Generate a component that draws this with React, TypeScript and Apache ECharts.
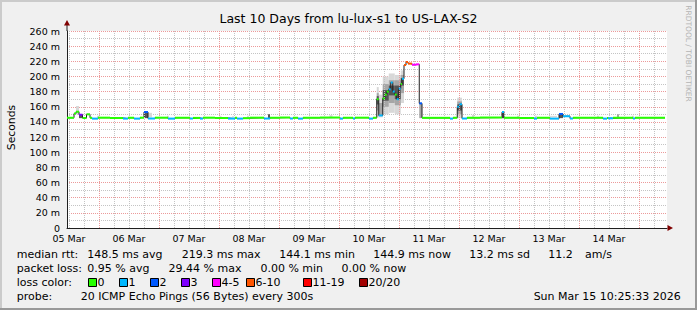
import React, { useEffect, useRef } from 'react';
import * as echarts from 'echarts';

// ---------- data ----------
const TITLE = 'Last 10 Days from lu-lux-s1 to US-LAX-S2';
const Y_MAX = 260;
const X_SPAN_HOURS = 240; // window length, hours from window start
const FIRST_MIDNIGHT_H = 12.8; // hours from window start to 06 Mar 00:00
const DAY_LABELS = ['05 Mar', '06 Mar', '07 Mar', '08 Mar', '09 Mar', '10 Mar', '11 Mar', '12 Mar', '13 Mar', '14 Mar'];

// median rtt segments (ms): start hour, median, loss class index
const SEG_START = [0, 2.8, 3.6, 4.8, 6.2, 7.8, 9.2, 10, 12.4, 17.2, 22.4, 24.4, 26.8, 29.2, 30.8, 32.4, 35.2, 40.4, 43.2, 49.2, 50.4, 53.2, 54.4, 59.2, 64.4, 67.2, 68, 70.4, 73.2, 78.8, 81.2, 85.2, 89.2, 90.4, 92.4, 94.4, 101.2, 109.2, 110.4, 114.4, 115.2, 120.8, 122.4, 123.9, 124.7, 126.3, 127.1, 127.9, 128.7, 129.5, 130.3, 131.1, 131.9, 132.7, 133.5, 134, 134.8, 135.6, 136.4, 138, 139.6, 140.9, 142, 153.2, 154.4, 156.1, 156.9, 158, 160, 165.2, 174, 174.8, 181.2, 186.8, 188, 193.2, 196.8, 198.4, 201.2, 202.4, 214.4, 216, 216.4, 218.4, 226.4, 227.2];
const SEG_END_LAST = 239.2;
const SEG_MEDIAN = [145.5, 151, 153.5, 149.5, 145.2, 150, 145.5, 144.4, 145.6, 145.2, 144.4, 145.5, 144.4, 145.6, 153, 144.5, 145.6, 144.4, 145.5, 144.5, 145.3, 144.4, 145.6, 145.2, 144.4, 145.4, 144.4, 145.0, 145.6, 144.5, 145.5, 145.8, 144.5, 145.5, 144.4, 145.5, 145.8, 144.4, 145.5, 144.4, 145.6, 144.4, 145.5, 170, 148.5, 171, 176, 180, 183, 192, 180, 176, 170, 184, 190, 197, 215, 219, 217, 215.5, 216, 164.5, 145.4, 144.4, 145.5, 160, 163.3, 144.5, 145.5, 145.8, 153, 145.5, 145.2, 144.4, 145.5, 144.4, 150.5, 147.5, 144.5, 145.5, 144.4, 145.2, 144.8, 145.5, 144.5, 145.5];
const SEG_LOSS = [0, 0, 0, 3, 0, 0, 0, 1, 0, 0, 1, 0, 1, 0, 2, 1, 0, 1, 0, 1, 0, 1, 0, 0, 1, 0, 1, 0, 0, 1, 0, 0, 1, 0, 1, 0, 0, 1, 0, 1, 0, 1, 0, 0, 1, 0, 0, 0, 1, 1, 1, 0, 1, 1, 0, 1, 5, 5, 5, 4, 4, 2, 0, 1, 0, 1, 1, 1, 0, 0, 1, 0, 0, 1, 0, 1, 2, 1, 1, 0, 1, 0, 1, 0, 1, 0];

// smoke bands: [start hour, end hour, low ms, high ms]
const SMOKE_LIGHT = [
  [3.6, 4.8, 150, 161], [12.0, 12.8, 146, 148], [32.4, 34.0, 146, 152], [40.0, 40.8, 146, 148],
  [61.0, 61.8, 146, 148], [66.0, 66.8, 146, 147.5], [72.0, 72.8, 146, 148], [105.0, 106.2, 146, 149],
  [123.9, 124.7, 146, 186], [124.7, 126.3, 146, 176], [126.3, 128.7, 150, 200], [128.7, 131.1, 152, 204],
  [131.1, 133.5, 150, 202], [133.5, 134.8, 165, 208], [156.1, 158, 145, 172], [162.0, 162.8, 146, 149],
  [180.0, 180.8, 146, 148], [187.2, 188, 146, 148], [193.2, 196, 146, 148], [212.0, 212.8, 146, 148],
  [226.0, 226.8, 146, 148],
];
const SMOKE_MID = [
  [123.9, 124.7, 155, 178], [124.7, 126.3, 148, 165], [126.3, 128.7, 160, 190], [128.7, 131.1, 165, 195],
  [131.1, 133.5, 162, 195], [133.5, 134.8, 178, 202], [140.9, 142, 145, 164], [156.1, 158, 150, 167],
  [220.0, 220.8, 146, 150],
];
const SMOKE_DARK = [
  [4.8, 6.2, 145, 150], [30.8, 32.4, 145, 153], [80.4, 81.2, 145, 150], [123.9, 124.7, 163, 174],
  [126.3, 128.7, 168, 182], [128.7, 131.1, 175, 188], [131.1, 133.5, 170, 188], [133.5, 134.8, 188, 198],
  [156.1, 158, 155, 163], [174, 174.8, 145, 153], [196.8, 198.4, 145, 150.5],
];

const LOSS_LABELS = ['0', '1', '2', '3', '4-5', '6-10', '11-19', '20/20'];
const LOSS_COLORS = ['#26ff00', '#00b8ff', '#0059ff', '#7e00ff', '#ff00ff', '#ff5500', '#ff0000', '#a10000'];
const SMOKE_COLORS = ['#d8d8d8', '#a6a6a6', '#555555'];

const RTT_STATS = ['148.5 ms avg', '219.3 ms max', '144.1 ms min', '144.9 ms now', '13.2 ms sd', '11.2', 'am/s'];
const LOSS_STATS = ['0.95 % avg', '29.44 % max', '0.00 % min', '0.00 % now'];
const PROBE_TEXT = '20 ICMP Echo Pings (56 Bytes) every 300s';
const DATE_TEXT = 'Sun Mar 15 10:25:33 2026';
const WATERMARK = 'RRDTOOL / TOBI OETIKER';

// ---------- layout ----------
const W = 697;
const H = 310;
const FONT = '"DejaVu Sans", "Liberation Sans", sans-serif';
const LEGEND_SIZE = 11;
const GRID_LEFT = 67;
const GRID_TOP = 31;
const GRID_RIGHT = 30;
const GRID_BOTTOM = 82;

const RTT_X = [87.3, 181.7, 279.3, 373.3, 469.3, 548.3, 585];
const LOSS_X = [87.3, 168.5, 260.4, 341.5];
const BOX_X = [88.5, 119.5, 150.5, 181.5, 212.5, 246.5, 303.5, 359.5];

function txt(text: string, x: number, y: number, size: number, opts: any = {}) {
  return {
    type: 'text',
    x,
    y,
    rotation: opts.rotation || 0,
    silent: true,
    z: 100,
    style: {
      text,
      font: `${size}px ${FONT}`,
      fill: opts.fill || '#000',
      textAlign: opts.align || 'left',
      align: opts.align || 'left',
      textVerticalAlign: 'middle',
      verticalAlign: 'middle',
    },
  };
}

const App = () => {
  const ref = useRef<HTMLDivElement>(null);
  useEffect(() => {
    const chart = echarts.init(ref.current!, null, { renderer: 'svg' });
    const n = SEG_START.length;
    const segData = SEG_START.map((s, i) => [s, i < n - 1 ? SEG_START[i + 1] : SEG_END_LAST, SEG_MEDIAN[i], SEG_LOSS[i]]);
    const medianLine: number[][] = segData.map((d) => [d[0], d[2]]);
    medianLine.push([SEG_END_LAST, SEG_MEDIAN[n - 1]]);
    const smokeData = [
      ...SMOKE_LIGHT.map((b) => [...b, 0]),
      ...SMOKE_MID.map((b) => [...b, 1]),
      ...SMOKE_DARK.map((b) => [...b, 2]),
    ];

    const majorHours: number[] = [];
    const minorHours: number[] = [];
    for (let h = FIRST_MIDNIGHT_H - 12; h < X_SPAN_HOURS; h += 6) {
      const k = Math.round((h - FIRST_MIDNIGHT_H) / 6);
      if (k % 4 === 0) majorHours.push(h);
      else minorHours.push(h);
    }
    const labelHours = DAY_LABELS.map((_, i) => FIRST_MIDNIGHT_H - 12 + 24 * i);

    const graphics: any[] = [
      // 3D frame
      { type: 'rect', shape: { x: 0, y: 0, width: W, height: 2 }, style: { fill: '#cbcbcb' }, silent: true },
      { type: 'rect', shape: { x: 0, y: 0, width: 2, height: H }, style: { fill: '#cbcbcb' }, silent: true },
      { type: 'rect', shape: { x: 0, y: H - 2, width: W, height: 2 }, style: { fill: '#999999' }, silent: true },
      { type: 'rect', shape: { x: W - 2, y: 0, width: 2, height: H }, style: { fill: '#999999' }, silent: true },
      // axis extensions & arrows
      { type: 'line', shape: { x1: 67, y1: 31, x2: 67, y2: 25 }, style: { stroke: '#1f1f1f', lineWidth: 1 }, silent: true, z: 50 },
      { type: 'polygon', shape: { points: [[64, 25.5], [70, 25.5], [67, 20]] }, style: { fill: '#800000' }, silent: true, z: 50 },
      { type: 'polygon', shape: { points: [[667.5, 225], [667.5, 231], [673, 228]] }, style: { fill: '#800000' }, silent: true, z: 50 },
      // axis title & watermark
      txt('Seconds', 11, 127.5, 10.8, { rotation: Math.PI / 2, align: 'center' }),
      txt(WATERMARK, 688.5, 53.5, 7.5, { rotation: -Math.PI / 2, align: 'center', fill: '#b4b4b4' }),
      // legend rows
      txt('median rtt:', 16.7, 254.5, LEGEND_SIZE),
      ...RTT_STATS.map((s, i) => txt(s, RTT_X[i], 254.5, LEGEND_SIZE)),
      txt('packet loss:', 16.7, 268.5, LEGEND_SIZE),
      ...LOSS_STATS.map((s, i) => txt(s, LOSS_X[i], 268.5, LEGEND_SIZE)),
      txt('loss color:', 16.7, 282.5, LEGEND_SIZE),
      ...LOSS_LABELS.map((l, i) => ({
        type: 'rect',
        shape: { x: BOX_X[i], y: 278.5, width: 8, height: 8 },
        style: { fill: LOSS_COLORS[i], stroke: '#000', lineWidth: 1 },
        silent: true,
        z: 100,
      })),
      ...LOSS_LABELS.map((l, i) => txt(l, BOX_X[i] + 9, 282.5, LEGEND_SIZE)),
      txt('probe:', 16.7, 296, LEGEND_SIZE),
      txt(PROBE_TEXT, 80.7, 296, LEGEND_SIZE),
      txt(DATE_TEXT, 680.7, 296, LEGEND_SIZE, { align: 'right' }),
    ];

    const option: any = {
      animation: false,
      backgroundColor: '#f0f0f0',
      title: {
        text: TITLE,
        left: 'center',
        top: 12,
        padding: 0,
        textStyle: { fontFamily: FONT, fontSize: 12.5, fontWeight: 'normal', color: '#000' },
      },
      grid: {
        left: GRID_LEFT,
        right: GRID_RIGHT,
        top: GRID_TOP,
        bottom: GRID_BOTTOM,
        show: true,
        backgroundColor: '#ffffff',
        borderWidth: 0,
      },
      xAxis: {
        type: 'value',
        min: 0,
        max: X_SPAN_HOURS,
        axisLine: { show: true, onZero: false, lineStyle: { color: '#1f1f1f', width: 1 } },
        axisTick: { show: false },
        splitLine: { show: false },
        axisLabel: {
          customValues: labelHours,
          formatter: (v: number) => DAY_LABELS[Math.round((v - labelHours[0]) / 24)] || '',
          fontFamily: FONT,
          fontSize: 9.5,
          lineHeight: 10,
          color: '#000',
          margin: 5,
        },
      },
      yAxis: {
        type: 'value',
        min: 0,
        max: Y_MAX,
        interval: 20,
        axisLine: { show: true, lineStyle: { color: '#1f1f1f', width: 1 } },
        axisTick: { show: false },
        axisLabel: {
          formatter: (v: number) => (v === 0 ? '0' : `${v} m`),
          fontFamily: FONT,
          fontSize: 9.5,
          lineHeight: 9,
          color: '#000',
          margin: 7,
        },
        splitLine: { show: true, lineStyle: { color: '#ec9a9a', width: 1, type: [1, 1] } },
        minorTick: { show: false, splitNumber: 2 },
        minorSplitLine: { show: true, lineStyle: { color: '#c4c4c4', width: 1, type: [1, 1] } },
      },
      graphic: graphics,
      series: [
        {
          type: 'line',
          name: 'grid',
          data: [],
          z: 1,
          silent: true,
          markLine: {
            silent: true,
            symbol: ['none', 'none'],
            label: { show: false },
            animation: false,
            data: [
              ...minorHours.map((h) => ({ xAxis: h, lineStyle: { color: '#c4c4c4', width: 1, type: [1, 1] } })),
              ...majorHours.map((h) => ({ xAxis: h, lineStyle: { color: '#ec9a9a', width: 1, type: [1, 1] } })),
            ],
          },
        },
        {
          type: 'custom',
          name: 'smoke',
          z: 3,
          silent: true,
          data: smokeData,
          encode: { x: [0, 1], y: [2, 3] },
          renderItem: (params: any, api: any) => {
            const a = api.coord([api.value(0), api.value(3)]);
            const b = api.coord([api.value(1), api.value(2)]);
            return {
              type: 'rect',
              shape: { x: a[0], y: a[1], width: b[0] - a[0], height: b[1] - a[1] },
              style: { fill: SMOKE_COLORS[api.value(4)] },
            };
          },
        },
        {
          type: 'line',
          name: 'median',
          z: 4,
          silent: true,
          step: 'end',
          showSymbol: false,
          symbol: 'none',
          data: medianLine,
          lineStyle: { color: '#202020', width: 1 },
        },
        {
          type: 'custom',
          name: 'loss color',
          z: 5,
          silent: true,
          data: segData,
          encode: { x: [0, 1], y: [2] },
          renderItem: (params: any, api: any) => {
            const a = api.coord([api.value(0), api.value(2)]);
            const b = api.coord([api.value(1), api.value(2)]);
            return {
              type: 'rect',
              shape: { x: a[0], y: a[1] - 1, width: b[0] - a[0], height: 2 },
              style: { fill: LOSS_COLORS[api.value(3)] },
            };
          },
        },
      ],
    };
    chart.setOption(option);
    return () => chart.dispose();
  }, []);
  return <div ref={ref} style={{ position: 'fixed', left: 0, top: 0, width: W, height: H }} />;
};

export default App;
